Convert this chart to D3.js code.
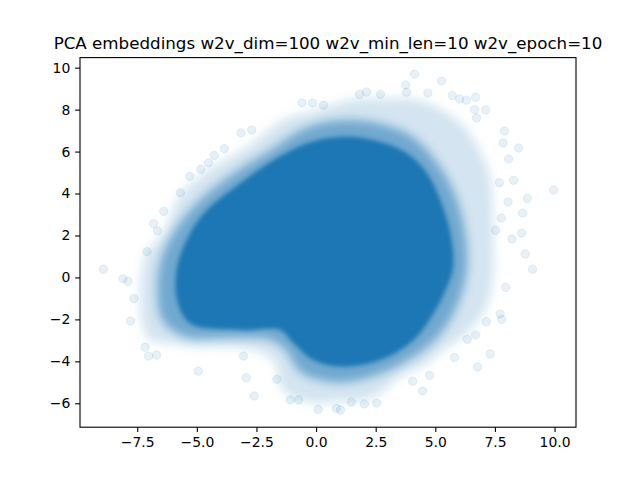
<!DOCTYPE html>
<html>
<head>
<meta charset="utf-8">
<script src="https://cdn.jsdelivr.net/npm/d3@7"></script>
<style>
  body { margin: 0; background: #fff; }
  svg { display: block; font-family: "DejaVu Sans", sans-serif; }
</style>
</head>
<body>
<svg id="chart" width="640" height="480"></svg>
<script>
// Dense core of the scatter (fully saturated area), traced as an outline
const coreX = [-0.38, 1.02, 2.41, 3.81, 4.65, 5.21, 5.63, 5.75, 5.49, 4.93, 4.09, 2.69,
  1.02, -0.11, -0.94, -1.50, -3.18, -5.28, -5.83, -5.83, -5.28, -4.57, -3.18, -1.78];
const coreY = [6.40, 6.71, 6.55, 5.92, 4.97, 3.69, 2.12, 0.51, -0.44, -1.71, -2.98, -3.94,
  -4.26, -3.94, -3.14, -2.51, -2.51, -2.19, -1.08, 0.51, 2.11, 3.22, 4.49, 5.60];

// Half-density band around the core
const midX = [-0.12, 1.02, 2.40, 3.95, 5.00, 5.84, 6.30, 6.30, 5.84, 5.00, 3.53, 1.85,
  0.60, -0.66, -1.29, -1.92, -3.60, -5.48, -6.45, -6.66, -6.45, -5.69, -4.65, -3.39,
  -1.92, -0.87];
const midY = [7.27, 7.51, 7.41, 6.79, 5.60, 3.93, 1.79, 0.12, -1.55, -2.98, -4.17, -4.89,
  -4.99, -4.51, -3.46, -2.98, -2.89, -2.84, -2.03, -0.36, 1.07, 2.64, 3.93, 5.03,
  6.08, 6.89];

// Outer fringe where the faint markers still overlap
const haloX = [0.04, 1.43, 2.83, 4.23, 5.42, 6.26, 6.80, 7.26, 7.39, 7.43, 7.42, 7.14,
  6.30, 5.32, 4.65, 3.53, 2.40, 1.02, -0.38, -1.38, -1.80, -2.62, -3.60, -4.99, -6.11,
  -6.95, -7.30, -7.37, -7.30, -7.09, -6.41, -5.69, -4.31, -2.89, -1.36];
const haloY = [7.98, 8.46, 8.51, 8.46, 7.89, 7.13, 6.17, 4.95, 3.36, 1.45, 0.20, -1.40,
  -2.66, -3.46, -4.09, -4.73, -5.69, -5.92, -5.92, -5.37, -3.94, -3.46, -3.30, -3.30,
  -3.14, -2.98, -2.19, -1.08, 0.36, 1.17, 2.12, 3.93, 5.27, 6.22, 7.51];

// Isolated markers visible outside the fringe
const outlierX = [-0.59, -0.15, 0.31, -3.15, -2.70, -3.85, -4.27, -4.51, -4.83, -5.30,
  -5.69, -6.39, -6.81, -6.65, 4.13, 5.26, 3.75, 3.80, 4.69, 6.69, 7.11, 6.65, 6.73,
  7.90, 7.84, 8.49, 8.07, 7.69, 8.28, 9.96, 8.86, 8.05, 8.66, 7.77, 7.53, 8.62, 8.21,
  2.70, 2.11, 1.82, 5.71, 6.02, 6.30, -8.92, -8.10, -7.89, -7.64, -7.78, -7.17, -7.02,
  -6.69, -4.94, -2.93, -2.59, -3.05, 0.09, -7.09, 8.77, 9.08, 7.95, 7.72, 7.78, 7.14,
  6.69, 6.34, 7.30, 6.77, 5.80, 4.76, 4.05, 4.47, 2.54, 2.03, 1.48, 1.02, 0.85, -1.08,
  -0.73, -1.64];
const outlierY = [8.32, 8.32, 8.21, 6.89, 7.03, 6.14, 5.82, 5.46, 5.16, 4.82,
  4.04, 3.15, 2.56, 2.22, 9.69, 9.37, 9.18, 8.83, 8.79, 8.59, 7.98, 8.00, 7.60,
  6.98, 6.41, 6.17, 5.65, 4.52, 4.63, 4.16, 3.77, 3.60, 3.07, 2.83, 2.25, 2.12, 1.83,
  8.73, 8.84, 8.73, 8.67, 8.51, 8.45, 0.39, -0.07, -0.18, -1.01, -2.08, -3.33, -3.75,
  -3.70, -4.47, -4.78, -5.65, -3.75, -6.29, 1.23, 1.12, 0.39, -0.47, -1.74, -2.00, -2.11,
  -2.74, -2.95, -3.65, -4.27, -3.81, -4.67, -4.95, -5.41, -5.99, -6.03, -5.94, -6.32, -6.24, -5.84,
  -5.84, -4.86];

const xTicks = [-7.5, -5.0, -2.5, 0.0, 2.5, 5.0, 7.5, 10.0];
const yTicks = [-6, -4, -2, 0, 2, 4, 6, 8, 10];
const title = "PCA embeddings w2v_dim=100 w2v_min_len=10 w2v_epoch=10";

const W = 640, H = 480;
const margin = { left: 80, right: 64, top: 57.6, bottom: 52.8 };
const color = "#1f77b4";

const svg = d3.select("#chart");

const x = d3.scaleLinear().domain([-9.9, 10.9]).range([margin.left, W - margin.right]);
const y = d3.scaleLinear().domain([-7.14, 10.48]).range([H - margin.bottom, margin.top]);

const defs = svg.append("defs");
function blur(id, sd) {
  defs.append("filter").attr("id", id)
    .attr("x", "-20%").attr("y", "-20%").attr("width", "140%").attr("height", "140%")
    .append("feGaussianBlur").attr("stdDeviation", sd);
}
blur("soft", 5);
blur("mid", 5);
blur("edge", 2.2);

const outline = d3.line()
  .x(d => x(d[0]))
  .y(d => y(d[1]))
  .curve(d3.curveCatmullRomClosed);

const layers = [
  { pts: d3.zip(haloX, haloY), op: 0.2, f: "soft" },
  { pts: d3.zip(midX, midY), op: 0.55, f: "mid" },
  { pts: d3.zip(coreX, coreY), op: 1, f: "edge" }
];
const outliers = d3.zip(outlierX, outlierY);

const plot = svg.append("g");

plot.selectAll("path.layer").data(layers).join("path")
  .attr("class", "layer")
  .attr("d", d => outline(d.pts))
  .attr("fill", color)
  .attr("fill-opacity", d => d.op)
  .attr("filter", d => `url(#${d.f})`);

plot.selectAll("circle").data(outliers).join("circle")
  .attr("cx", d => x(d[0]))
  .attr("cy", d => y(d[1]))
  .attr("r", 4.17)
  .attr("fill", color).attr("fill-opacity", 0.1)
  .attr("stroke", color).attr("stroke-opacity", 0.1);

// axes
const tickLen = 4.86;
const xAxis = svg.append("g")
  .attr("transform", `translate(0,${H - margin.bottom})`)
  .call(d3.axisBottom(x).tickValues(xTicks).tickFormat(d3.format(".1f"))
    .tickSize(tickLen).tickPadding(4.86));
const yAxis = svg.append("g")
  .attr("transform", `translate(${margin.left},0)`)
  .call(d3.axisLeft(y).tickValues(yTicks).tickFormat(d3.format("d"))
    .tickSize(tickLen).tickPadding(4.86));

[xAxis, yAxis].forEach(g => {
  g.select(".domain").remove();
  g.selectAll(".tick line").attr("stroke", "#000").attr("stroke-width", 1.1);
  g.selectAll(".tick text").attr("fill", "#000")
    .style("font-family", "DejaVu Sans").style("font-size", "13.9px");
});

// frame
svg.append("rect")
  .attr("x", margin.left).attr("y", margin.top)
  .attr("width", W - margin.left - margin.right)
  .attr("height", H - margin.top - margin.bottom)
  .attr("fill", "none").attr("stroke", "#000").attr("stroke-width", 1.1);

svg.append("text")
  .attr("x", (margin.left + W - margin.right) / 2)
  .attr("y", margin.top - 8.3)
  .attr("text-anchor", "middle")
  .style("font-size", "16.7px")
  .text(title);
</script>
</body>
</html>
